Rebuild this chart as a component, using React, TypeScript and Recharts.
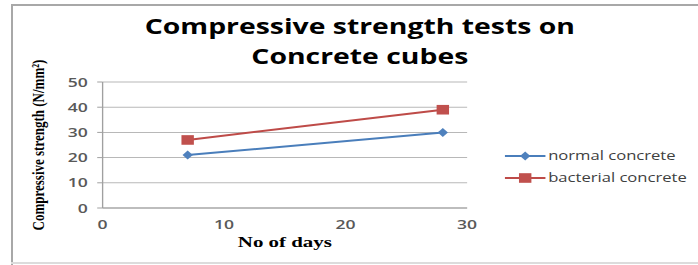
import React from "react";
import { LineChart, Line, XAxis, YAxis, CartesianGrid } from "recharts";

const days = [7, 28];
const normalConcrete = [21, 30];
const bacterialConcrete = [27, 39];
const xTicks = [0, 10, 20, 30];
const yTicks = [0, 10, 20, 30, 40, 50];
const seriesNames = ["normal concrete", "bacterial concrete"];

const data = days.map((d, i) => ({
  day: d,
  normal: normalConcrete[i],
  bacterial: bacterialConcrete[i],
}));

const BLUE_LINE = "#4A7EBB";
const BLUE_MARK = "#4F81BD";
const RED_LINE = "#BE4B48";
const RED_MARK = "#C0504D";

// the reference image is horizontally stretched; draw narrower and stretch
const W = 517;
const K = 698 / W;

const Diamond = (props: any) => {
  const { cx, cy } = props;
  if (cx == null || cy == null) return null;
  const rx = 3.8;
  const ry = 4.5;
  return (
    <polygon
      key={`d-${cx}`}
      points={`${cx},${cy - ry} ${cx + rx},${cy} ${cx},${cy + ry} ${cx - rx},${cy}`}
      fill={BLUE_MARK}
    />
  );
};

const Square = (props: any) => {
  const { cx, cy } = props;
  if (cx == null || cy == null) return null;
  return <rect key={`s-${cx}`} x={cx - 4.6} y={cy - 4.8} width={9.2} height={9.6} fill={RED_MARK} />;
};

const legendFont = { fontFamily: "'Open Sans', sans-serif", fontSize: 12.3, fill: "#404040" };

export default function App() {
  return (
    <div style={{ position: "fixed", left: 0, top: 0, width: 698, height: 265, background: "#fff", overflow: "hidden" }}>
      <div style={{ position: "absolute", left: 11, top: 4, width: 687, height: 2, background: "#a8a8a8" }} />
      <div style={{ position: "absolute", left: 11, top: 4, width: 2, height: 261, background: "#a8a8a8" }} />
      <div style={{ position: "absolute", left: 11, top: 262, width: 687, height: 2, background: "#dcdcdc" }} />
      <div
        style={{
          position: "absolute",
          left: 0,
          top: 0,
          width: W,
          height: 265,
          transform: `scaleX(${K})`,
          transformOrigin: "0 0",
        }}
      >
        <div
          style={{
            position: "absolute",
            left: 0,
            top: 11,
            width: 2 * 266.5,
            textAlign: "center",
            fontFamily: "'Open Sans', sans-serif",
            fontWeight: 700,
            fontSize: 21,
            lineHeight: "30px",
            color: "#000",
          }}
        >
          Compressive strength tests on
          <br />
          Concrete cubes
        </div>
        <div style={{ position: "absolute", left: 0, top: 0 }}>
          <LineChart width={W} height={265} data={data} margin={{ top: 82, right: 171, bottom: 37, left: 36 }}>
            <CartesianGrid vertical={false} stroke="#b8b8b8" />
            <XAxis
              dataKey="day"
              type="number"
              domain={[0, 30]}
              ticks={xTicks}
              tickLine={false}
              axisLine={{ stroke: "#a0a0a0" }}
              height={20}
              tickMargin={6}
              tick={{ fill: "#595959", fontSize: 13, fontFamily: "'Open Sans', sans-serif", fontWeight: 600 }}
              label={{
                value: "No of days",
                position: "bottom",
                offset: 8,
                style: { fontFamily: "'Liberation Serif', serif", fontWeight: 700, fontSize: 15.5, fill: "#000" },
              }}
            />
            <YAxis
              type="number"
              domain={[0, 50]}
              ticks={yTicks}
              width={40}
              tickSize={4}
              tickMargin={7}
              tickLine={{ stroke: "#a0a0a0" }}
              axisLine={{ stroke: "#a0a0a0" }}
              tick={{ fill: "#595959", fontSize: 13, fontFamily: "'Open Sans', sans-serif", fontWeight: 600 }}
              label={{
                value: "Compressive strength (N/mm²)",
                angle: -90,
                position: "left",
                offset: 8,
                style: {
                  textAnchor: "middle",
                  fontFamily: "'Liberation Serif', serif",
                  fontWeight: 700,
                  fontSize: 13,
                  fill: "#000",
                },
              }}
            />
            <Line
              dataKey="normal"
              name={seriesNames[0]}
              stroke={BLUE_LINE}
              strokeWidth={2}
              dot={Diamond}
              activeDot={false}
              isAnimationActive={false}
            />
            <Line
              dataKey="bacterial"
              name={seriesNames[1]}
              stroke={RED_LINE}
              strokeWidth={2}
              dot={Square}
              activeDot={false}
              isAnimationActive={false}
            />
          </LineChart>
        </div>
        <svg style={{ position: "absolute", left: 372, top: 145 }} width={144} height={46}>
          <line x1={2} x2={32} y1={11} y2={11} stroke={BLUE_LINE} strokeWidth={2} />
          <polygon points="17,6.5 20.8,11 17,15.5 13.2,11" fill={BLUE_MARK} />
          <text x={34} y={11} dy="0.35em" {...legendFont}>
            {seriesNames[0]}
          </text>
          <line x1={2} x2={32} y1={33} y2={33} stroke={RED_LINE} strokeWidth={2} />
          <rect x={12.4} y={28.2} width={9.2} height={9.6} fill={RED_MARK} />
          <text x={34} y={33} dy="0.35em" {...legendFont}>
            {seriesNames[1]}
          </text>
        </svg>
      </div>
    </div>
  );
}
